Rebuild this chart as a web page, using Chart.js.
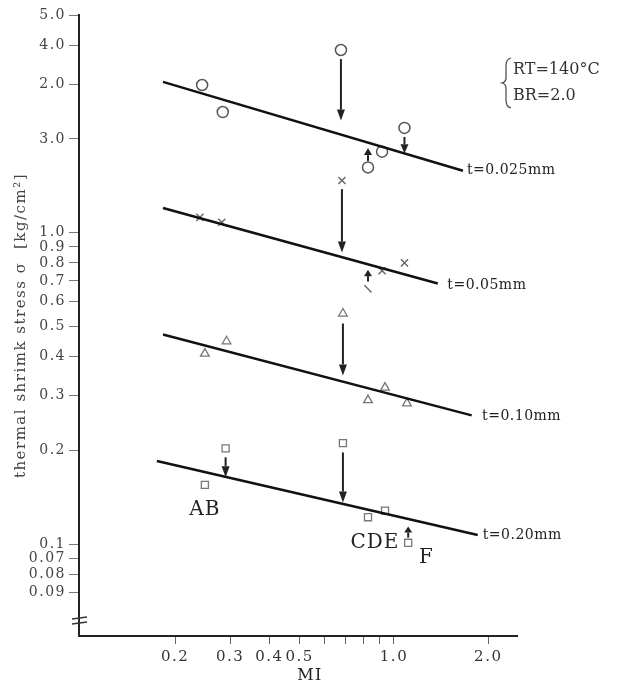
<!DOCTYPE html>
<html><head><meta charset="utf-8">
<script src="https://cdn.jsdelivr.net/npm/chart.js@4"></script>
<style>html,body{margin:0;padding:0;background:#fff;}#wrap{width:618px;height:688px;position:relative;}</style>
</head><body><div id="wrap"><canvas id="c" width="618" height="688"></canvas></div>
<script>
// ---- tick values and printed tick labels (labels reproduced as printed) ----
const yTickValues = [0.07,0.08,0.09,0.1,0.2,0.3,0.4,0.5,0.6,0.7,0.8,0.9,1.0,2.0,3.0,4.0,5.0];
const yTickLabels = ['0.09','0.08','0.07','0.1','0.2','0.3','0.4','0.5','0.6','0.7','0.8','0.9','1.0','3.0','2.0','4.0','5.0'];
const xTickValues = [0.2,0.3,0.4,0.5,0.6,0.7,0.8,0.9,1.0,2.0];
const xTickLabels = ['0.2','0.3','0.4','0.5','','','','','1.0','2.0'];

// ---- measured points (MI, stress) ----
const mi025 = [0.244,0.284,0.677,0.826,0.916,1.08];
const s025  = [2.98,2.44,3.86,1.62,1.82,2.17];
const mi05  = [0.240,0.282,0.682,0.916,1.08,0.826];
const s05   = [1.12,1.08,1.47,0.755,0.80,0.66];
const mi10  = [0.249,0.292,0.687,0.826,0.936,1.10];
const s10   = [0.409,0.448,0.55,0.29,0.318,0.283];
const mi20  = [0.290,0.249,0.687,0.826,0.936,1.11];
const s20   = [0.203,0.155,0.211,0.122,0.128,0.101];

// ---- fitted lines (end points) ----
const fit025x = [0.183,1.66], fit025y = [3.05,1.58];
const fit05x  = [0.183,1.38], fit05y  = [1.20,0.687];
const fit10x  = [0.183,1.77], fit10y  = [0.471,0.259];
const fit20x  = [0.175,1.85], fit20y  = [0.185,0.107];

// ---- arrows (MI, stress from, stress to) ----
const arrowX    = [0.677,0.826,1.08,0.682,0.826,0.687,0.290,0.687,1.11];
const arrowFrom = [3.61,1.70,2.03,1.38,0.697,0.511,0.190,0.197,0.105];
const arrowTo   = [2.29,1.87,1.80,0.863,0.761,0.348,0.164,0.136,0.114];

// ---- text annotations ----
const noteText = ['t=0.025mm','t=0.05mm','t=0.10mm','t=0.20mm','AB','CDE','F'];
const noteX    = [1.71,1.48,1.91,1.92,0.249,0.869,1.27];
const noteY    = [1.58,0.676,0.257,0.107,0.129,0.1007,0.0902];

const pts = (xs, ys) => xs.map((v,i)=>({x:v, y:ys[i]}));
const SERIF = '"DejaVu Serif", "Liberation Serif", serif';

const fitStyle = {type:'line', borderColor:'#111', borderWidth:2.5, pointRadius:0, fill:false};
const datasets = [
  {...fitStyle, data: pts(fit025x, fit025y)},
  {...fitStyle, data: pts(fit05x, fit05y)},
  {...fitStyle, data: pts(fit10x, fit10y)},
  {...fitStyle, data: pts(fit20x, fit20y)},
  {type:'scatter', data: pts(mi025, s025), pointStyle:'circle', pointRadius:5.5, borderColor:'#555', backgroundColor:'rgba(0,0,0,0)', borderWidth:1.5},
  {type:'scatter', data: pts(mi05, s05), pointStyle:['crossRot','crossRot','crossRot','crossRot','crossRot','line'], pointRotation:[0,0,0,0,0,45], pointRadius:5, borderColor:'#666', backgroundColor:'rgba(0,0,0,0)', borderWidth:1.4},
  {type:'scatter', data: pts(mi10, s10), pointStyle:'triangle', pointRadius:5, borderColor:'#777', backgroundColor:'rgba(0,0,0,0)', borderWidth:1.3},
  {type:'scatter', data: pts(mi20, s20), pointStyle:'rect', pointRadius:5, borderColor:'#777', backgroundColor:'rgba(0,0,0,0)', borderWidth:1.3}
];

const spacing = {
  id:'spacing',
  beforeDraw(chart){ chart.ctx.letterSpacing = '1.5px'; }
};

const annot = {
  id:'annot',
  afterDraw(chart){
    const {ctx, scales:{x, y}} = chart;
    ctx.save();
    // arrows
    ctx.strokeStyle = '#222'; ctx.fillStyle = '#222'; ctx.lineWidth = 2;
    arrowX.forEach((v,i)=>{
      const px = x.getPixelForValue(v), p0 = y.getPixelForValue(arrowFrom[i]), p1 = y.getPixelForValue(arrowTo[i]);
      const dir = p1 > p0 ? 1 : -1;
      const head = Math.min(11, Math.abs(p1-p0)*0.55);
      ctx.beginPath(); ctx.moveTo(px, p0); ctx.lineTo(px, p1 - dir*head); ctx.stroke();
      ctx.beginPath(); ctx.moveTo(px, p1); ctx.lineTo(px-4, p1 - dir*head); ctx.lineTo(px+4, p1 - dir*head); ctx.closePath(); ctx.fill();
    });
    // notes
    ctx.fillStyle = '#222'; ctx.textBaseline = 'middle';
    noteText.forEach((t,i)=>{
      const px = x.getPixelForValue(noteX[i]), py = y.getPixelForValue(noteY[i]);
      if (t.startsWith('t=')) { ctx.letterSpacing = '0.5px'; ctx.font = '14px ' + SERIF; ctx.textAlign = 'left'; }
      else { ctx.letterSpacing = '1px'; ctx.font = '20px ' + SERIF; ctx.textAlign = 'center'; }
      ctx.fillText(t, px, py);
    });
    ctx.letterSpacing = '1.5px';
    // x title
    ctx.font = '16px ' + SERIF; ctx.textAlign = 'center'; ctx.fillStyle = '#222';
    ctx.fillText('MI', 310, 676);
    // axis break marks
    const ax = chart.chartArea.left;
    ctx.strokeStyle = '#333'; ctx.lineWidth = 1.3;
    ctx.beginPath(); ctx.moveTo(ax-7, 619); ctx.lineTo(ax+8, 617); ctx.stroke();
    ctx.beginPath(); ctx.moveTo(ax-7, 624); ctx.lineTo(ax+8, 622); ctx.stroke();
    // legend brace + text
    ctx.strokeStyle = '#444'; ctx.lineWidth = 1.2;
    ctx.beginPath();
    ctx.moveTo(511, 58); ctx.quadraticCurveTo(506, 59, 506, 66);
    ctx.lineTo(506, 78); ctx.quadraticCurveTo(506, 82, 502, 83);
    ctx.quadraticCurveTo(506, 84, 506, 88); ctx.lineTo(506, 100);
    ctx.quadraticCurveTo(506, 107, 511, 108); ctx.stroke();
    ctx.letterSpacing = '0px';
    ctx.font = '16px ' + SERIF; ctx.textAlign = 'left'; ctx.fillStyle = '#333';
    ctx.fillText('RT=140°C', 513, 70);
    ctx.fillText('BR=2.0', 513, 96);
    ctx.restore();
    ctx.letterSpacing = '0px';
  }
};

new Chart(document.getElementById('c'), {
  data: {datasets},
  options: {
    responsive:false, animation:false, devicePixelRatio:1,
    layout:{padding:{top:15, right:101, bottom:0, left:0}},
    plugins:{legend:{display:false}, tooltip:{enabled:false}},
    scales:{
      x:{type:'logarithmic', min:0.0987, max:2.47,
        afterBuildTicks: s => { s.ticks = xTickValues.map(v=>({value:v})); },
        afterFit: s => { s.height = 52; },
        ticks:{callback:(v,i)=>xTickLabels[i], autoSkip:false, maxRotation:0, minRotation:0, font:{family:SERIF, size:15}, color:'#333', padding:4},
        grid:{drawOnChartArea:false, drawTicks:true, tickLength:8, color:'#666'},
        border:{display:true, color:'#222', width:2}
      },
      y:{type:'logarithmic', min:0.0507, max:5.0,
        afterBuildTicks: s => { s.ticks = yTickValues.map(v=>({value:v})); },
        afterFit: s => { s.width = 79; },
        ticks:{callback:(v,i)=>yTickLabels[i], autoSkip:false, font:{family:SERIF, size:14}, color:'#444', padding:3},
        grid:{drawOnChartArea:false, drawTicks:true, tickLength:10, color:'#777'},
        border:{display:true, color:'#222', width:2},
        title:{display:true, text:'thermal shrimk stress σ  [kg/cm²]', font:{family:SERIF, size:15}, color:'#444', padding:{top:12, bottom:0}}
      }
    }
  },
  plugins:[spacing, annot]
});
</script>
</body></html>
